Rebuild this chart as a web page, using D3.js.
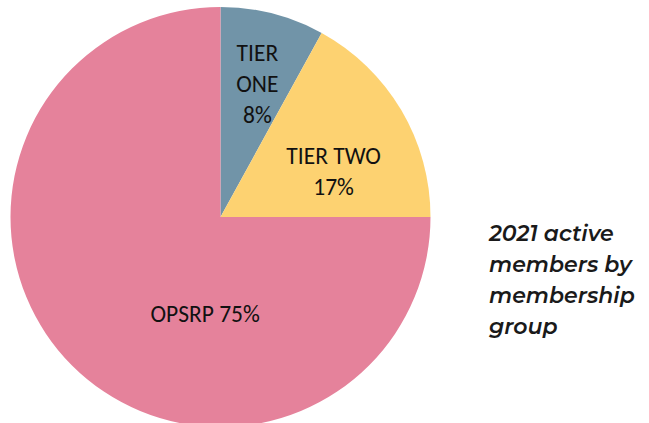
<!DOCTYPE html>
<html><head><meta charset="utf-8">
<script src="https://cdn.jsdelivr.net/npm/d3@7"></script>
<style>html,body{margin:0;padding:0;background:#fff;}</style>
</head><body>
<script>
const categories = ["TIER ONE", "TIER TWO", "OPSRP"];
const values = [8, 17, 75];
const labelLines = [["TIER", "ONE", "8%"], ["TIER TWO", "17%"], ["OPSRP 75%"]];
const colors = ["#7194a8", "#fdd271", "#e5829b"];
const titleLines = ["2021 active", "members by", "membership", "group"];

const W = 649, H = 423;
const cx = 220.5, cy = 217, R = 210;
// label placement (layout): polar position relative to centre, degrees from 12 o'clock
const labelPos = [{a: 15.5, r: 138}, {a: 68, r: 122}, {a: 189, r: 98}];

const svg = d3.select("body").append("svg").attr("width", W).attr("height", H);
const g = svg.append("g").attr("transform", `translate(${cx},${cy})`);

const data = categories.map((c, i) => ({c, v: values[i], i}));
const pie = d3.pie().value(d => d.v).sort(null);
const arc = d3.arc().innerRadius(0).outerRadius(R);
const arcs = pie(data);

g.selectAll("path").data(arcs).join("path")
  .attr("d", arc).attr("fill", d => colors[d.data.i]);

const lh = 31;
arcs.forEach((d, i) => {
  const p = labelPos[i];
  const ang = p.a * Math.PI / 180;
  const x = Math.sin(ang) * p.r, y = -Math.cos(ang) * p.r;
  const lines = labelLines[i];
  const t = g.append("text").attr("text-anchor", "middle")
    .attr("font-family", "Carlito, Lato, 'Open Sans', sans-serif")
    .attr("font-size", 23.5).attr("fill", "#111");
  lines.forEach((l, k) => {
    t.append("tspan").attr("x", x)
      .attr("y", y + (k - (lines.length - 1) / 2) * lh + 8).text(l);
  });
});

const tt = svg.append("text").attr("font-family", "Montserrat, 'Open Sans', sans-serif")
  .attr("font-size", 22).attr("font-weight", 600).attr("font-style", "italic").attr("fill", "#1a1a1a");
titleLines.forEach((l, k) => {
  tt.append("tspan").attr("x", 489).attr("y", 241 + k * 31).text(l);
});
</script>
</body></html>
